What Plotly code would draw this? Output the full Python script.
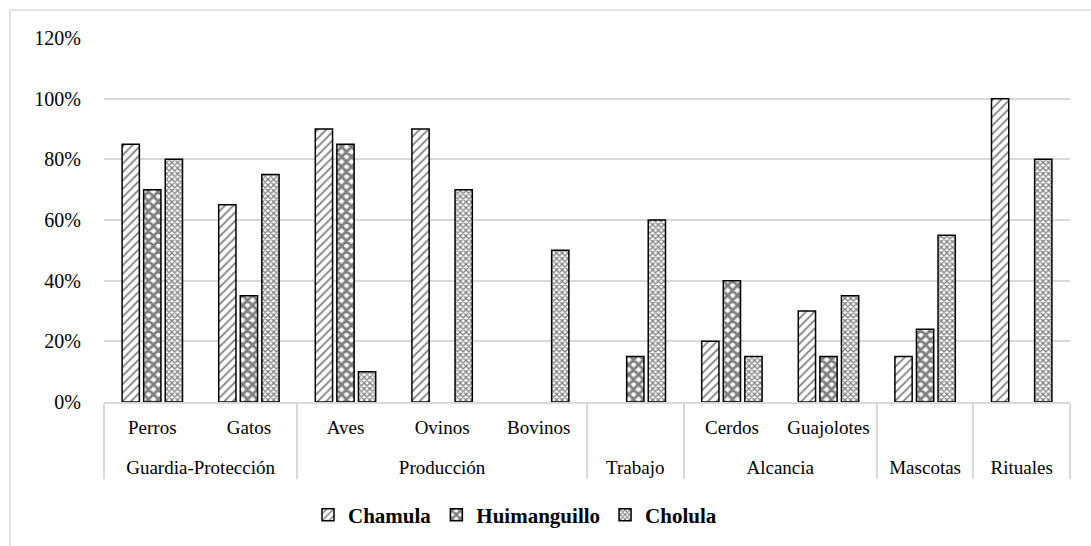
import plotly.graph_objects as go

groups = ["Guardia-Protección", "Guardia-Protección", "Producción", "Producción", "Producción",
          "Trabajo", "Alcancia", "Alcancia", "Mascotas", "Rituales"]
animals = ["Perros", "Gatos", "Aves", "Ovinos", "Bovinos", " ", "Cerdos", "Guajolotes", "  ", "   "]

chamula = [85, 65, 90, 90, None, None, 20, 30, 15, 100]
huimanguillo = [70, 35, 85, None, None, 15, 40, 15, 24, None]
cholula = [80, 75, 10, 70, 50, 60, 15, 35, 55, 80]

series = [
    ("Chamula", chamula, dict(shape="/", size=6, solidity=0.3)),
    ("Huimanguillo", huimanguillo, dict(shape="x", size=7, solidity=0.65)),
    ("Cholula", cholula, dict(shape="x", size=4, solidity=0.55)),
]

FONT = "Liberation Serif"

# extra blank line under the first-level labels to push the group labels lower
animal_labels = [a + "<br> " for a in animals]

fig = go.Figure()
for name, vals, pat in series:
    fig.add_trace(go.Bar(
        name="<b>" + name + "</b>",
        x=[groups, animal_labels],
        y=vals,
        marker=dict(
            color="white",
            line=dict(color="black", width=1.5),
            pattern=dict(fgcolor="black", bgcolor="white", fillmode="overlay", **pat),
        ),
    ))

W, H = 1091, 546
ml, mr, mt, mb = 104, 21, 38, 143
pw, ph = W - ml - mr, H - mt - mb

fig.update_layout(
    width=W, height=H,
    margin=dict(l=ml, r=mr, t=mt, b=mb),
    paper_bgcolor="white", plot_bgcolor="white",
    font=dict(family=FONT, size=20, color="black"),
    barmode="group", bargap=0.33, bargroupgap=0.2,
    showlegend=True,
    legend=dict(orientation="h", x=(515 - ml) / pw, xanchor="center",
                y=-(515 - (H - mb)) / ph, yanchor="middle",
                font=dict(family=FONT, size=21, color="black"),
                itemwidth=30),
    xaxis=dict(type="multicategory", showline=True, linecolor="#d9d9d9", linewidth=1.5,
               showdividers=True, dividercolor="#d9d9d9", dividerwidth=1.5,
               ticklabelstandoff=7,
               tickfont=dict(family=FONT, size=19, color="black"), ticks=""),
    yaxis=dict(range=[0, 120], dtick=20, ticksuffix="%", showgrid=True, gridcolor="#d9d9d9",
               gridwidth=1.5, zeroline=False, showline=False, ticklabelstandoff=22,
               tickfont=dict(family=FONT, size=20, color="black")),
    shapes=[dict(type="rect", xref="paper", yref="paper",
                 x0=(10 - ml) / pw, x1=(W + 20 - ml) / pw,
                 y0=-(H + 20 - (H - mb)) / ph, y1=1 + (mt - 10) / ph,
                 line=dict(color="#d9d9d9", width=1.5), fillcolor="rgba(0,0,0,0)", layer="below")],
)

fig.write_html("out.html", config={"displayModeBar": False},
               post_script="document.body.style.margin='0';document.body.style.overflow='hidden';")
